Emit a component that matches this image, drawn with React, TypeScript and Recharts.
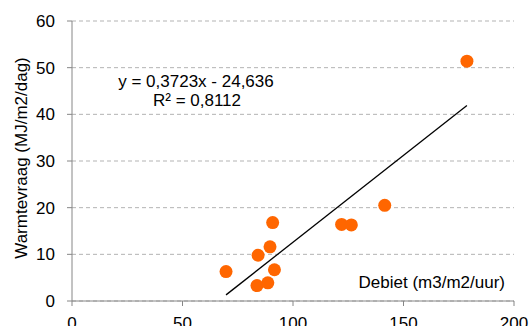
import {
  CartesianGrid,
  Customized,
  Scatter,
  ScatterChart,
  XAxis,
  YAxis,
} from "recharts";

const FONT = "Arial, 'Liberation Sans', sans-serif";

// debiet (m3/m2/uur) en warmtevraag (MJ/m2/dag) per meting
const debiet = [178.7, 141.5, 122.0, 126.4, 90.8, 89.6, 84.2, 91.6, 69.7, 83.7, 88.6];
const warmtevraag = [51.4, 20.5, 16.4, 16.3, 16.8, 11.6, 9.8, 6.7, 6.3, 3.3, 3.9];

// lineaire trendlijn uit Excel
const trendSlope = 0.3723;
const trendIntercept = -24.636;

const xTicks = [0, 50, 100, 150, 200];
const yTicks = [0, 10, 20, 30, 40, 50, 60];

const points = debiet.map((x, i) => ({ x, y: warmtevraag[i] }));
const xMin = Math.min(...debiet);
const xMax = Math.max(...debiet);
const trend = [xMin, xMax].map((x) => ({ x, y: trendSlope * x + trendIntercept }));

function Dot(props: { cx?: number; cy?: number }) {
  return <circle cx={props.cx} cy={props.cy} r={6.5} fill="#FF6600" />;
}

function Labels() {
  return (
    <g fontFamily={FONT} fontSize={17} fill="#000">
      <text x={196} y={87} textAnchor="middle">
        y = 0,3723x - 24,636
      </text>
      <text x={197} y={106} textAnchor="middle">
        R² = 0,8112
      </text>
      <text x={505} y={288} textAnchor="end">
        Debiet (m3/m2/uur)
      </text>
      <text
        x={21}
        y={158}
        textAnchor="middle"
        dominantBaseline="central"
        transform="rotate(-90 21 158)"
      >
        Warmtevraag (MJ/m2/dag)
      </text>
    </g>
  );
}

export default function App() {
  const tick = { fill: "#000", fontSize: 17, fontFamily: FONT };
  return (
    <div style={{ position: "absolute", left: 0, top: 0, background: "#fff" }}>
      <ScatterChart
        width={531}
        height={326}
        margin={{ top: 21, right: 17, bottom: 0, left: 20 }}
      >
        <CartesianGrid
          horizontal
          vertical={false}
          stroke="#b3b3b3"
          strokeDasharray="4 3"
        />
        <XAxis
          type="number"
          dataKey="x"
          domain={[0, 200]}
          ticks={xTicks}
          height={25}
          tick={tick}
          tickSize={5}
          tickMargin={11}
          stroke="#868686"
          interval={0}
        />
        <YAxis
          type="number"
          dataKey="y"
          domain={[0, 60]}
          ticks={yTicks}
          width={52}
          tick={tick}
          tickSize={5}
          tickMargin={12}
          stroke="#868686"
          interval={0}
        />
        <Scatter
          data={trend}
          line={{ stroke: "#000", strokeWidth: 1.3 }}
          shape={() => null}
          isAnimationActive={false}
        />
        <Scatter data={points} shape={<Dot />} isAnimationActive={false} />
        <Customized component={Labels} />
      </ScatterChart>
    </div>
  );
}
